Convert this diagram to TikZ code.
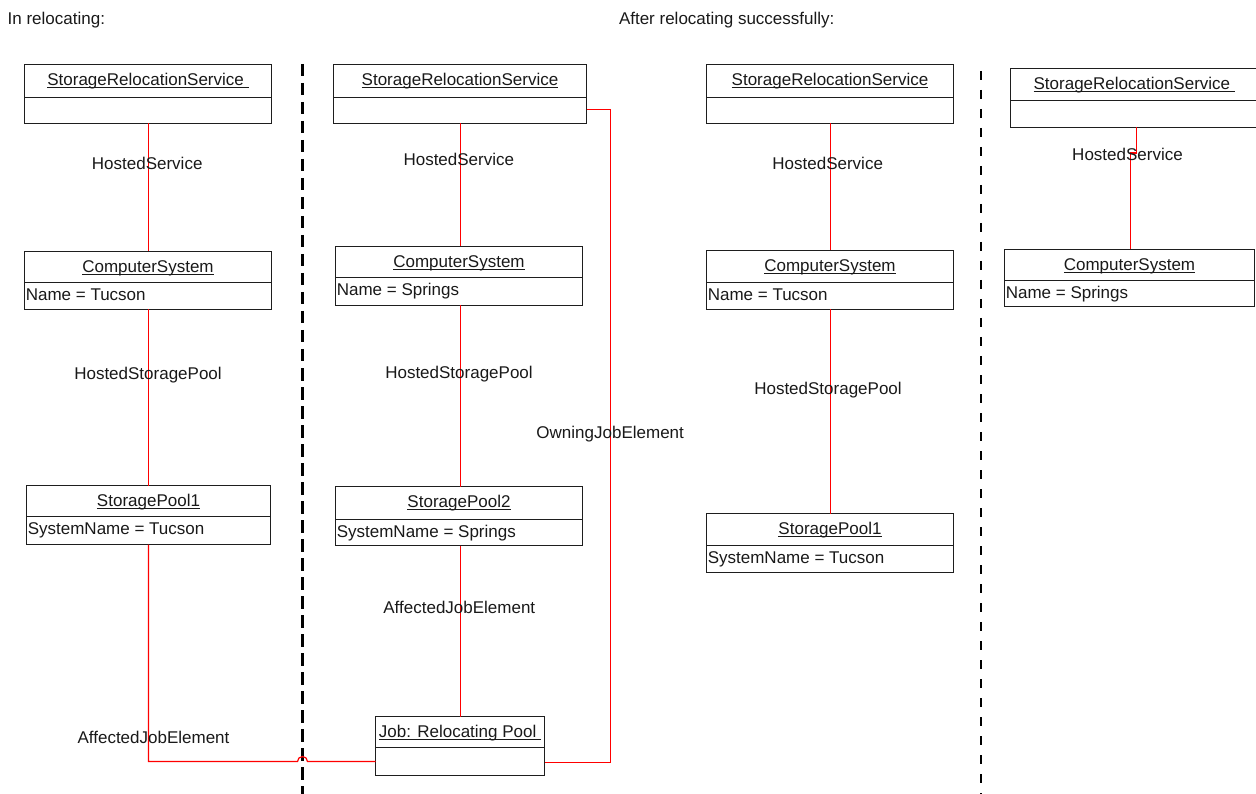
\documentclass[tikz,border=0pt]{standalone}
\usepackage{fontspec}
\setmainfont{Liberation Sans}
\definecolor{assocred}{RGB}{255,0,0}
\definecolor{boxgray}{RGB}{30,30,30}
\newcommand\ulx[1]{\setbox0\hbox{#1}\rlap{\rule[-2.5pt]{\wd0}{1pt}}\box0}
\tikzset{
  boxline/.style={draw=boxgray, line width=1.2pt},
  objbox/.style={boxline, rectangle, inner sep=0pt, outer sep=0pt},
  txt/.style={inner sep=0pt, outer sep=0pt, text=black!90},
  assoc/.style={color=assocred, draw=assocred, line width=1.2pt},
  septhick/.style={draw=black, line width=3.2pt, dash pattern=on 12.5pt off 6.5pt},
  septhin/.style={draw=black, line width=2pt, dash pattern=on 9pt off 10pt},
}
\newcommand\umlobj[8]{%
  \pgfmathsetmacro\uw{#4-#2}\pgfmathsetmacro\uh{#6-#3}%
  \node[objbox, minimum width=\uw pt, minimum height=\uh pt] (#1) at ({(#2+#4)/2},{(#3+#6)/2}) {};
  \draw[boxline] (#2,#5) -- (#4,#5);
  \node[txt, anchor=base] (#1t) at ({(#2+#4)/2},{#3+21.3}) {\ulx{#7}};
  \node[txt, anchor=base west] (#1a) at ({#2+1.3},{#5+17.8}) {#8};
}
\begin{document}
\begin{tikzpicture}[x=1pt, y=-1pt, font=\fontsize{17}{20}\selectfont]
\useasboundingbox (0,0) rectangle (1256,794);

% connector guide coordinates
\coordinate (x1) at (148.5,0);
\coordinate (x2) at (460.5,0);
\coordinate (x3) at (830.5,0);
\coordinate (hopL) at (297.5,761.5);
\coordinate (ownA) at (610.5,109.5);
\coordinate (ownB) at (610.5,762.5);
\coordinate (j4a) at (1136.5,153);
\coordinate (j4b) at (1130.5,153);

% separators
\coordinate (d1t) at (302.5,64);
\coordinate (d1b) at (302.5,800);
\coordinate (d2t) at (980.5,71);
\coordinate (d2b) at (980.5,800);
\draw[septhick] (d1t) -- (d1b);
\draw[septhin] (d2t) -- (d2b);

% panel 1
\umlobj{srs1}{24.5}{64.5}{271.5}{97.5}{123.5}{StorageRelocationService\ }{}
\umlobj{cs1}{24.5}{251.5}{271.5}{282.5}{309.5}{ComputerSystem}{Name = Tucson}
\umlobj{sp1}{26.5}{485.5}{270.5}{516.5}{544.5}{StoragePool1}{SystemName = Tucson}

% panel 2
\umlobj{srs2}{333.5}{64.5}{586.5}{97.5}{123.5}{StorageRelocationService}{}
\umlobj{cs2}{335.5}{246.5}{582.5}{277.5}{305.5}{ComputerSystem}{Name = Springs}
\umlobj{sp2}{335.5}{486.5}{582.5}{519.5}{545.5}{StoragePool2}{SystemName = Springs}
\umlobj{job}{375.5}{716.5}{544.5}{747.5}{775.5}{Job: Relocating Pool\ }{}

% panel 3
\umlobj{srs3}{706.5}{64.5}{953.5}{97.5}{123.5}{StorageRelocationService}{}
\umlobj{cs3}{706.5}{250.5}{953.5}{282.5}{309.5}{ComputerSystem}{Name = Tucson}
\umlobj{sp3}{706.5}{513.5}{953.5}{545.5}{572.5}{StoragePool1}{SystemName = Tucson}

% panel 4
\umlobj{srs4}{1010.5}{68.5}{1258}{100.5}{127.5}{StorageRelocationService\ }{}
\umlobj{cs4}{1004.5}{249.5}{1254.5}{280.5}{306.5}{ComputerSystem}{Name = Springs}

% connectors
\draw[assoc] (srs1.south -| x1) -- (cs1.north -| x1);
\draw[assoc] (cs1.south -| x1) -- (sp1.north -| x1);
\draw[assoc] (sp1.south -| x1) -- (hopL -| x1) -- (hopL) arc[start angle=180, end angle=0, radius=5pt] -- (job.west |- hopL);
\draw[assoc] (srs2.south -| x2) -- (cs2.north -| x2);
\draw[assoc] (cs2.south -| x2) -- (sp2.north -| x2);
\draw[assoc] (sp2.south -| x2) -- (job.north -| x2);
\draw[assoc] (srs2.east |- ownA) -- (ownA) -- (ownB) -- (job.east |- ownB);
\draw[assoc] (srs3.south -| x3) -- (cs3.north -| x3);
\draw[assoc] (cs3.south -| x3) -- (sp3.north -| x3);
\draw[assoc] (srs4.south -| j4a) -- (j4a) -- (j4b) -- (cs4.north -| j4b);

% headings
\node[txt, anchor=base west] (h1) at (7.7,25) {In relocating:};
\node[txt, anchor=base west] (h2) at (619,25) {After relocating successfully:};

% association labels
\node[txt, anchor=base] (hs1) at (147.2,170) {HostedService};
\node[txt, anchor=base] (hsp1) at (148,379) {HostedStoragePool};
\node[txt, anchor=base] (aje1) at (153.5,743) {AffectedJobElement};
\node[txt, anchor=base] (hs2) at (458.8,166) {HostedService};
\node[txt, anchor=base] (hsp2) at (459,378) {HostedStoragePool};
\node[txt, anchor=base] (oje) at (610.2,438.3) {OwningJobElement};
\node[txt, anchor=base] (aje2) at (459.3,613.3) {AffectedJobElement};
\node[txt, anchor=base] (hs3) at (827.7,170) {HostedService};
\node[txt, anchor=base] (hsp3) at (828,394) {HostedStoragePool};
\node[txt, anchor=base] (hs4) at (1127.5,161) {HostedService};
\end{tikzpicture}
\end{document}
